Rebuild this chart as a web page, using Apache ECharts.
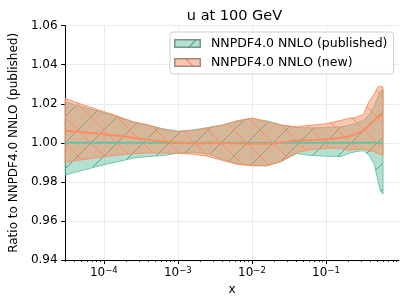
<!DOCTYPE html>
<html>
<head>
<meta charset="utf-8">
<script src="https://cdn.jsdelivr.net/npm/echarts@6/dist/echarts.min.js"></script>
<style>
html,body{margin:0;padding:0;background:#fff;}
#chart{width:407px;height:305px;}
</style>
</head>
<body>
<div id="chart"></div>
<script>
// ---- data ----
const xValues = [3.0e-5, 4.0e-5, 6.3e-5, 1.0e-4, 1.6e-4, 2.5e-4, 4.0e-4, 6.3e-4, 1.0e-3, 1.6e-3, 2.5e-3, 4.0e-3, 6.3e-3, 1.0e-2, 1.6e-2, 2.5e-2, 4.0e-2, 6.3e-2, 0.1, 0.16, 0.2, 0.25, 0.32, 0.38, 0.45, 0.5, 0.55, 0.59];
const pubCentral = [1.0, 1.0, 1.0, 1.0, 1.0, 1.0, 1.0, 1.0, 1.0, 1.0, 1.0, 1.0, 1.0, 1.0, 1.0, 1.0, 1.0, 1.0, 1.0, 1.0, 1.0, 1.0, 1.0, 1.0, 1.0, 1.0, 1.0, 1.0];
const pubUpper = [1.0210, 1.0195, 1.0175, 1.0155, 1.0130, 1.0105, 1.0090, 1.0072, 1.0060, 1.0066, 1.0078, 1.0092, 1.0112, 1.0125, 1.0112, 1.0092, 1.0078, 1.0076, 1.0078, 1.0082, 1.0090, 1.0098, 1.0115, 1.0142, 1.0190, 1.0235, 1.0265, 1.0270];
const pubLower = [0.9836, 0.9848, 0.9868, 0.9888, 0.9905, 0.9922, 0.9930, 0.9935, 0.9947, 0.9952, 0.9945, 0.9915, 0.9895, 0.9885, 0.9882, 0.9905, 0.9945, 0.9935, 0.9932, 0.9930, 0.9945, 0.9955, 0.9960, 0.9938, 0.9890, 0.9810, 0.9750, 0.9738];
const newCentral = [1.0062, 1.0058, 1.0051, 1.0044, 1.0036, 1.0026, 1.0016, 1.0007, 1.0000, 0.9998, 0.9998, 0.9998, 0.9997, 0.9996, 0.9995, 1.0002, 1.0012, 1.0014, 1.0018, 1.0026, 1.0032, 1.0045, 1.0062, 1.0090, 1.0115, 1.0130, 1.0140, 1.0142];
const newUpper = [1.0228, 1.0210, 1.0185, 1.0160, 1.0135, 1.0108, 1.0092, 1.0068, 1.0057, 1.0062, 1.0075, 1.0090, 1.0113, 1.0127, 1.0108, 1.0090, 1.0083, 1.0090, 1.0098, 1.0115, 1.0125, 1.0130, 1.0145, 1.0210, 1.0250, 1.0285, 1.0290, 1.0285];
const newLower = [0.9900, 0.9908, 0.9918, 0.9929, 0.9938, 0.9945, 0.9948, 0.9948, 0.9946, 0.9942, 0.9932, 0.9910, 0.9890, 0.9882, 0.9883, 0.9905, 0.9950, 0.9965, 0.9972, 0.9972, 0.9962, 0.9965, 0.9970, 0.9960, 0.9955, 0.9945, 0.9940, 0.9938];
const yTicks = [0.94, 0.96, 0.98, 1.00, 1.02, 1.04, 1.06];
const xMajorTicks = [1e-4, 1e-3, 1e-2, 1e-1];
const xMinorTicks = [3e-5,4e-5,5e-5,6e-5,7e-5,8e-5,9e-5,2e-4,3e-4,4e-4,5e-4,6e-4,7e-4,8e-4,9e-4,2e-3,3e-3,4e-3,5e-3,6e-3,7e-3,8e-3,9e-3,2e-2,3e-2,4e-2,5e-2,6e-2,7e-2,8e-2,9e-2,0.2,0.3,0.4,0.5,0.6,0.7,0.8,0.9];
const names = ['NNPDF4.0 NNLO (published)', 'NNPDF4.0 NNLO (new)'];

// ---- styles ----
const FONT = 'DejaVu Sans';
const GREEN = '#66c2a5', ORANGE = '#fc8d62';

function hatchCanvas(color, dir, s) {
  const c = document.createElement('canvas');
  c.width = s; c.height = s;
  const ctx = c.getContext('2d');
  ctx.strokeStyle = color; ctx.lineWidth = 1;
  ctx.beginPath();
  if (dir === '/') {
    ctx.moveTo(-1, s + 1); ctx.lineTo(s + 1, -1);
    ctx.moveTo(-2, 2); ctx.lineTo(2, -2);
    ctx.moveTo(s - 2, s + 2); ctx.lineTo(s + 2, s - 2);
  } else {
    ctx.moveTo(-1, -1); ctx.lineTo(s + 1, s + 1);
    ctx.moveTo(s - 2, -2); ctx.lineTo(s + 2, 2);
    ctx.moveTo(-2, s - 2); ctx.lineTo(2, s + 2);
  }
  ctx.stroke();
  return c;
}
function legendIcon(fill, edge, line, dir) {
  const w = 54, h = 18;
  const c = document.createElement('canvas');
  c.width = w; c.height = h;
  const ctx = c.getContext('2d');
  ctx.fillStyle = '#fff'; ctx.fillRect(0, 0, w, h);
  ctx.fillStyle = fill; ctx.fillRect(0, 0, w, h);
  ctx.strokeStyle = line; ctx.lineWidth = 2;
  ctx.beginPath();
  if (dir === '/') { ctx.moveTo(28, h); ctx.lineTo(46, 0); }
  else { ctx.moveTo(22, 0); ctx.lineTo(40, h); }
  ctx.stroke();
  ctx.strokeStyle = edge; ctx.lineWidth = 3;
  ctx.strokeRect(1.5, 1.5, w - 3, h - 3);
  return 'image://' + c.toDataURL();
}

const greenHatch = hatchCanvas('rgba(80,160,130,1)', '/', 26);
const orangeHatch = hatchCanvas('rgba(252,141,98,1)', '\\', 26);

function bandSeries(name, upper, lower, fill, edge, hatch, z) {
  return {
    type: 'custom', name: name, z: z,
    data: [[xValues[0], upper[0]]],
    encode: { x: 0, y: 1 },
    renderItem: function (params, api) {
      if (params.dataIndex !== 0) return null;
      const pts = [];
      for (let i = 0; i < xValues.length; i++) pts.push(api.coord([xValues[i], upper[i]]));
      for (let i = xValues.length - 1; i >= 0; i--) pts.push(api.coord([xValues[i], lower[i]]));
      return {
        type: 'group',
        children: [
          { type: 'polygon', shape: { points: pts }, style: { fill: fill, stroke: null } },
          { type: 'polygon', shape: { points: pts }, style: { fill: { image: hatch, repeat: 'repeat' }, stroke: null } },
          { type: 'polygon', shape: { points: pts }, style: { fill: null, stroke: edge, lineWidth: 1 } }
        ]
      };
    }
  };
}

function centralSeries(name, vals, color, z) {
  return {
    type: 'line', name: name, z: z, showSymbol: false, symbol: 'none',
    data: xValues.map((x, i) => [x, vals[i]]),
    lineStyle: { color: color, width: 2 },
    itemStyle: { color: color },
    smooth: 0.3
  };
}

const chart = echarts.init(document.getElementById('chart'), null, { renderer: 'canvas' });
const option = {
  animation: false,
  backgroundColor: '#fff',
  title: {
    text: 'u at 100 GeV', left: 229.5, top: 4, textAlign: 'center',
    textStyle: { fontFamily: FONT, fontSize: 14.5, fontWeight: 'normal', color: '#000' }
  },
  grid: { left: 60, right: 8, top: 25.7, bottom: 45, containLabel: false },
  legend: {
    orient: 'vertical', left: 170, top: 32, itemWidth: 27, itemHeight: 9, itemGap: 6,
    padding: [5, 6, 5, 4],
    backgroundColor: 'rgba(255,255,255,0.85)', borderColor: '#d0d0d0', borderWidth: 1, borderRadius: 3,
    textStyle: { fontFamily: FONT, fontSize: 12.5, color: '#000', padding: [0, 0, 0, 5] },
    data: [
      { name: names[0], icon: legendIcon('rgba(102,194,165,0.5)', 'rgba(110,140,130,0.9)', 'rgba(80,150,125,1)', '/') },
      { name: names[1], icon: legendIcon('rgba(252,141,98,0.5)', 'rgba(150,130,120,0.9)', 'rgba(230,130,90,1)', '\\') }
    ]
  },
  xAxis: [{
    type: 'log', min: 3e-5, max: 0.97, logBase: 10,
    name: 'x', nameLocation: 'middle', nameGap: 21,
    nameTextStyle: { fontFamily: FONT, fontSize: 12, color: '#000' },
    axisLine: { show: true, lineStyle: { color: '#000', width: 1 } },
    axisTick: { show: true, length: 4, customValues: xMajorTicks, lineStyle: { color: '#000' } },
    axisLabel: {
      show: true, margin: 6, customValues: xMajorTicks,
      formatter: function (v) {
        const e = Math.round(Math.log10(v));
        return '{b|10}{s|\u2212' + (-e) + '}';
      },
      rich: {
        b: { fontFamily: FONT, fontSize: 12, color: '#000', lineHeight: 14 },
        s: { fontFamily: FONT, fontSize: 8.5, color: '#000', lineHeight: 6, verticalAlign: 'top' }
      }
    },
    splitLine: { show: true, lineStyle: { color: '#ebebeb', width: 1 } }
  }, {
    type: 'log', min: 3e-5, max: 0.97, logBase: 10, gridIndex: 0, position: 'bottom',
    axisLine: { show: false },
    axisTick: { show: true, length: 2, customValues: xMinorTicks, lineStyle: { color: '#000', width: 0.8 } },
    axisLabel: { show: false },
    splitLine: { show: false }
  }],
  yAxis: {
    type: 'value', min: 0.94, max: 1.06, interval: 0.02,
    name: 'Ratio to NNPDF4.0 NNLO (published)', nameLocation: 'middle', nameGap: 41, nameRotate: 90,
    nameTextStyle: { fontFamily: FONT, fontSize: 12, color: '#000' },
    axisLine: { show: true, lineStyle: { color: '#000', width: 1 } },
    axisTick: { show: true, length: 4, lineStyle: { color: '#000' } },
    axisLabel: { fontFamily: FONT, fontSize: 12, color: '#000', margin: 7.5, formatter: v => v.toFixed(2) },
    splitLine: { show: true, lineStyle: { color: '#ebebeb', width: 1 } }
  },
  series: [
    bandSeries(names[0], pubUpper, pubLower, 'rgba(102,194,165,0.5)', 'rgba(102,194,165,0.9)', greenHatch, 2),
    bandSeries(names[1], newUpper, newLower, 'rgba(252,141,98,0.5)', 'rgba(252,141,98,0.9)', orangeHatch, 3),
    centralSeries('published central', pubCentral, GREEN, 4),
    centralSeries('new central', newCentral, ORANGE, 5)
  ]
};
chart.setOption(option);
</script>
</body>
</html>
